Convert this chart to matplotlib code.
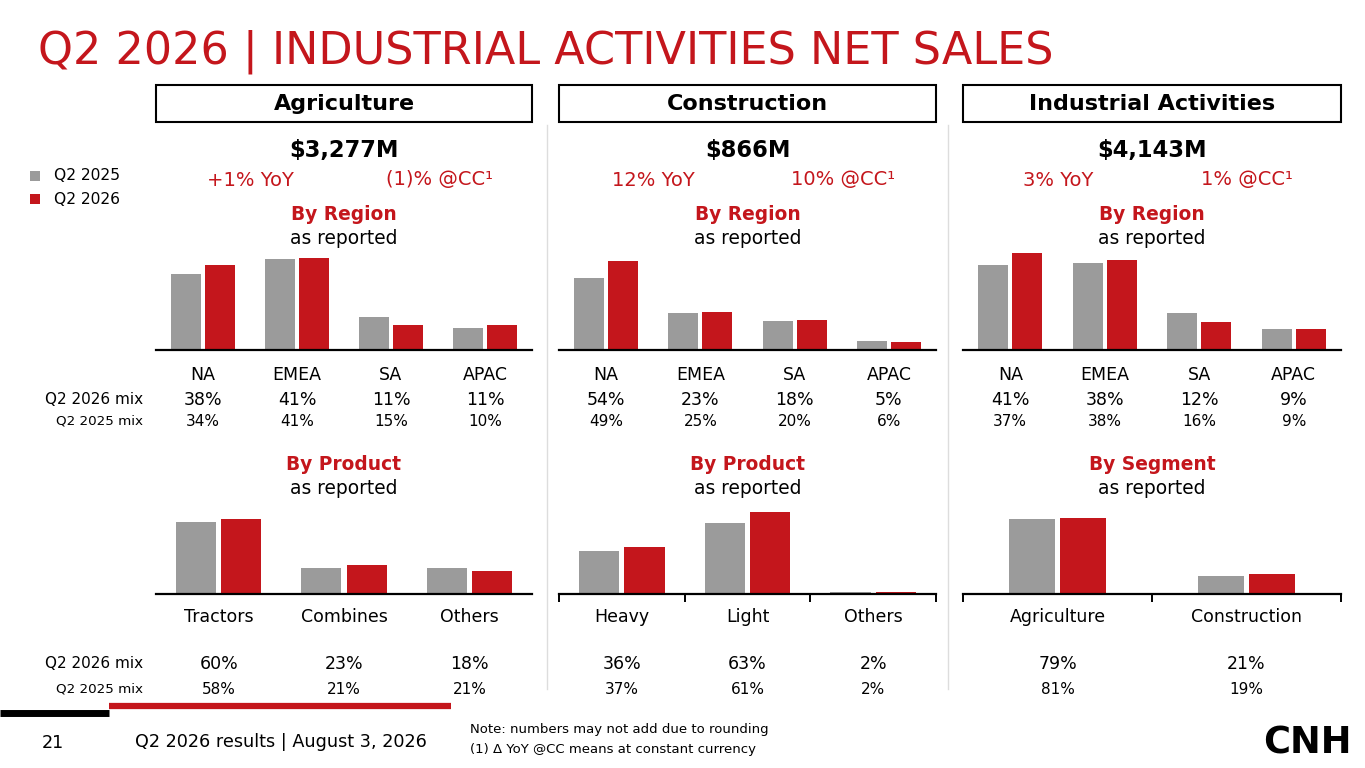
import matplotlib
matplotlib.use('Agg')
from matplotlib import pyplot as plt
from matplotlib.patches import Rectangle
from matplotlib.lines import Line2D
import numpy as np

plt.rcParams['font.family'] = ['DejaVu Sans']

W, H = 1365, 768
RED = '#C4161C'
GREY = '#9B9B9B'

### net sales in $M
regions = ['NA', 'EMEA', 'SA', 'APAC']
ag_region_2025 = [1105, 1330, 485, 325]
ag_region_2026 = [1245, 1345, 360, 360]
con_region_2025 = [379, 193, 155, 46]
con_region_2026 = [468, 199, 156, 40]
ind_region_2025 = [1488, 1528, 644, 362]
ind_region_2026 = [1699, 1574, 497, 373]

ag_products = ['Tractors', 'Combines', 'Others']
ag_product_2025 = [1882, 681, 681]
ag_product_2026 = [1966, 754, 590]
con_products = ['Heavy', 'Light', 'Others']
con_product_2025 = [286, 472, 15]
con_product_2026 = [312, 546, 12]
segments = ['Agriculture', 'Construction']
segment_2025 = [3245, 773]
segment_2026 = [3277, 866]

### mix labels
ag_region_mix26 = ['38%', '41%', '11%', '11%']
ag_region_mix25 = ['34%', '41%', '15%', '10%']
con_region_mix26 = ['54%', '23%', '18%', '5%']
con_region_mix25 = ['49%', '25%', '20%', '6%']
ind_region_mix26 = ['41%', '38%', '12%', '9%']
ind_region_mix25 = ['37%', '38%', '16%', '9%']
ag_product_mix26 = ['60%', '23%', '18%']
ag_product_mix25 = ['58%', '21%', '21%']
con_product_mix26 = ['36%', '63%', '2%']
con_product_mix25 = ['37%', '61%', '2%']
segment_mix26 = ['79%', '21%']
segment_mix25 = ['81%', '19%']

panel_titles = ['Agriculture', 'Construction', 'Industrial Activities']
totals = ['$3,277M', '$866M', '$4,143M']
yoy = ['+1% YoY', '12% YoY', '3% YoY']
cc = ['(1)% @CC\u00b9', '10% @CC\u00b9', '1% @CC\u00b9']
bottom_titles = ['By Product', 'By Product', 'By Segment']

fig = plt.figure(figsize=(W / 100, H / 100), dpi=100)


def ftext(x, y, s, **kw):
    kw.setdefault('ha', 'center')
    kw.setdefault('va', 'center')
    fig.text(x / W, 1 - y / H, s, **kw)


def bar_panel(left, right, base, cats, v25, v26, ymax, width, off, ticks,
              lab_y, mix26, mix25, y26, y25):
    ax = fig.add_axes([left / W, 1 - base / H, (right - left) / W, 100 / H])
    x = np.arange(len(cats))
    ax.bar(x - off, v25, width, color=GREY, lw=0)
    ax.bar(x + off, v26, width, color=RED, lw=0)
    ax.set_xlim(-0.5, len(cats) - 0.5)
    ax.set_ylim(0, ymax)
    for s in ['top', 'left', 'right']:
        ax.spines[s].set_visible(False)
    ax.spines['bottom'].set_linewidth(1.6)
    ax.set_yticks([])
    if ticks:
        ax.set_xticks(np.arange(len(cats) + 1) - 0.5)
        ax.tick_params(axis='x', length=6, width=1.4, labelbottom=False)
    else:
        ax.set_xticks([])
    ax.patch.set_alpha(0)
    tr = ax.get_xaxis_transform()
    for i, c in enumerate(cats):
        ax.text(i, -(lab_y - base) / 100, c, transform=tr, ha='center',
                va='center', fontsize=12.5)
        ax.text(i, -(y26 - base) / 100, mix26[i], transform=tr, ha='center',
                va='center', fontsize=12.5)
        ax.text(i, -(y25 - base) / 100, mix25[i], transform=tr, ha='center',
                va='center', fontsize=11)
    return ax


# title
ftext(38, 52, 'Q2 2026 | INDUSTRIAL ACTIVITIES NET SALES', ha='left',
      fontsize=32, color=RED)

# panel headers
lefts = [156, 559, 963]
rights = [532, 936, 1341]
yoy_x = [250, 653, 1058]
cc_x = [439, 843, 1247]
for i in range(3):
    l, r = lefts[i], rights[i]
    c = (l + r) / 2
    fig.patches.append(Rectangle((l / W, 1 - 122 / H), (r - l) / W, 37 / H,
                                 transform=fig.transFigure, fill=False,
                                 ec='black', lw=1.5))
    ftext(c, 104, panel_titles[i], fontsize=16, fontweight='bold')
    ftext(c, 150, totals[i], fontsize=16.3, fontweight='bold')
    ftext(yoy_x[i], 180, yoy[i], fontsize=14, color=RED)
    ftext(cc_x[i], 180, cc[i], fontsize=14, color=RED)
    ftext(c, 215, 'By Region', fontsize=13.4, fontweight='bold', color=RED)
    ftext(c, 238, 'as reported', fontsize=13.4)
    ftext(c, 465, bottom_titles[i], fontsize=13.4, fontweight='bold', color=RED)
    ftext(c, 488, 'as reported', fontsize=13.4)

# separators
for sx in [547, 948]:
    fig.lines.append(Line2D([sx / W, sx / W], [1 - 125 / H, 1 - 689 / H],
                            transform=fig.transFigure, color='#DDDDDD', lw=1))

# region charts
bar_panel(156, 532, 350, regions, ag_region_2025, ag_region_2026, 1462,
          0.32, 0.18, False, 375, ag_region_mix26, ag_region_mix25, 400, 421)
bar_panel(559, 936, 350, regions, con_region_2025, con_region_2026, 526,
          0.32, 0.18, False, 375, con_region_mix26, con_region_mix25, 400, 421)
bar_panel(963, 1341, 350, regions, ind_region_2025, ind_region_2026, 1752,
          0.32, 0.18, False, 375, ind_region_mix26, ind_region_mix25, 400, 421)

# product / segment charts
bar_panel(156, 532, 594, ag_products, ag_product_2025, ag_product_2026, 2621,
          0.32, 0.18, False, 617, ag_product_mix26, ag_product_mix25, 664, 689)
bar_panel(559, 936, 594, con_products, con_product_2025, con_product_2026, 666,
          0.32, 0.18, True, 617, con_product_mix26, con_product_mix25, 664, 689)
bar_panel(963, 1341, 594, segments, segment_2025, segment_2026, 4312,
          0.24, 0.135, True, 617, segment_mix26, segment_mix25, 664, 689)

# row labels
ftext(143, 400, 'Q2 2026 mix', ha='right', fontsize=11)
ftext(143, 421, 'Q2 2025 mix', ha='right', fontsize=9.7)
ftext(143, 664, 'Q2 2026 mix', ha='right', fontsize=11)
ftext(143, 689, 'Q2 2025 mix', ha='right', fontsize=9.7)

# legend
fig.patches.append(Rectangle((30 / W, 1 - 181 / H), 10 / W, 10 / H,
                             transform=fig.transFigure, color=GREY, lw=0))
fig.patches.append(Rectangle((30 / W, 1 - 204 / H), 10 / W, 10 / H,
                             transform=fig.transFigure, color=RED, lw=0))
ftext(54, 176, 'Q2 2025', ha='left', fontsize=11.2)
ftext(54, 199, 'Q2 2026', ha='left', fontsize=11.2)

# footer
fig.lines.append(Line2D([0, 109 / W], [1 - 712.5 / H] * 2,
                        transform=fig.transFigure, color='black', lw=5,
                        solid_capstyle='butt'))
fig.lines.append(Line2D([109 / W, 451 / W], [1 - 706 / H] * 2,
                        transform=fig.transFigure, color=RED, lw=4.5,
                        solid_capstyle='butt'))
ftext(53, 743, '21', fontsize=12.7)
ftext(135, 742, 'Q2 2026 results | August 3, 2026', ha='left', fontsize=12.7)
ftext(470, 730, 'Note: numbers may not add due to rounding', ha='left',
      fontsize=9.5)
ftext(470, 750, '(1) \u0394 YoY @CC means at constant currency', ha='left',
      fontsize=9.5)
ftext(1307, 743, 'CNH', fontsize=26.5, fontweight='heavy')

fig.savefig('out.png', dpi=100)
